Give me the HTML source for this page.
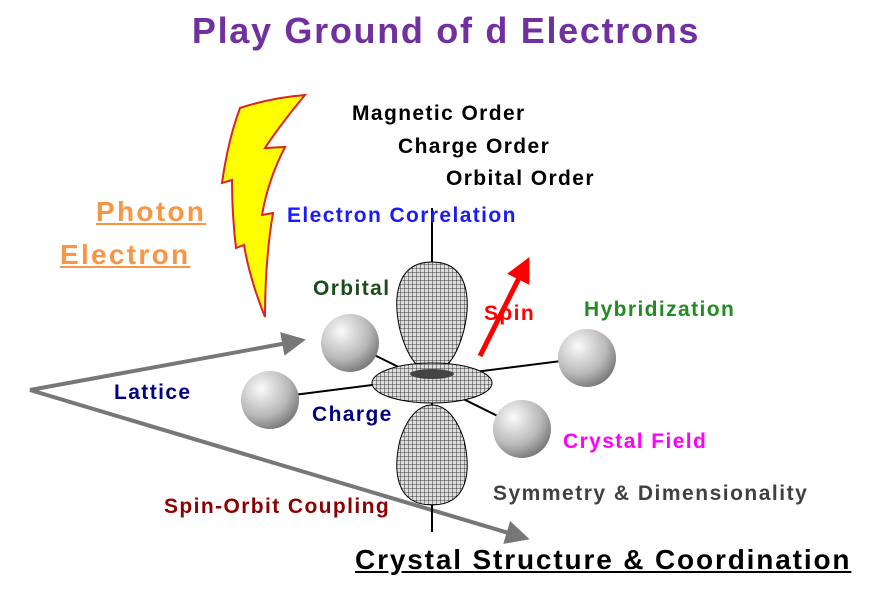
<!DOCTYPE html>
<html><head><meta charset="utf-8"><style>
body{margin:0;background:#fff;width:892px;height:611px;overflow:hidden;position:relative;font-family:"Liberation Sans",Arial,sans-serif;font-weight:bold}
.t{position:absolute;white-space:nowrap;letter-spacing:1.4px}
</style></head><body>
<svg width="892" height="611" style="position:absolute;left:0;top:0">
<defs>
<pattern id="g" width="4" height="4" patternUnits="userSpaceOnUse"><rect width="4" height="4" fill="#ddd"/><path d="M0 0H4M0 0V4" stroke="#111" stroke-width="0.8"/></pattern>
<radialGradient id="s" cx="0.35" cy="0.3" r="0.8"><stop offset="0" stop-color="#fafafa"/><stop offset="0.6" stop-color="#b8b8b8"/><stop offset="1" stop-color="#6a6a6a"/></radialGradient>
<marker id="a" markerWidth="6" markerHeight="6" refX="4" refY="3" orient="auto" markerUnits="strokeWidth"><path d="M0 0L6 3L0 6Z" fill="#777"/></marker>
<marker id="r" markerWidth="5" markerHeight="5" refX="3" refY="2.5" orient="auto" markerUnits="strokeWidth"><path d="M0 0L5 2.5L0 5Z" fill="#f00"/></marker>
</defs>
<path d="M240 108 Q270 98 305 95 Q280 125 265 148 L285 147 Q268 180 262 215 L273 213 Q265 260 265 317 Q250 280 244 245 L236 248 Q232 215 232 180 L222 183 Q228 140 240 108Z" fill="#ff0" stroke="#d22" stroke-width="2"/>
<line x1="30" y1="390" x2="298" y2="341" stroke="#777" stroke-width="4" marker-end="url(#a)"/>
<line x1="30" y1="390" x2="522" y2="537" stroke="#777" stroke-width="4" marker-end="url(#a)"/>
<line x1="432" y1="208" x2="432" y2="532" stroke="#000" stroke-width="2"/>
<line x1="270" y1="398" x2="585" y2="358" stroke="#000" stroke-width="2"/>
<line x1="350" y1="343" x2="522" y2="428" stroke="#000" stroke-width="2"/>
<circle cx="350" cy="343" r="29" fill="url(#s)"/>
<circle cx="270" cy="400" r="29" fill="url(#s)"/>
<path d="M432 505 C395 505 393 470 400 440 C408 415 420 405 432 405 C444 405 456 415 464 440 C471 470 469 505 432 505Z" fill="url(#g)" stroke="#000"/>
<path d="M432 262 C395 262 393 300 400 330 C408 360 420 372 432 372 C444 372 456 360 464 330 C471 300 469 262 432 262Z" fill="url(#g)" stroke="#000"/>
<ellipse cx="432" cy="383" rx="60" ry="20" fill="url(#g)" stroke="#000"/>
<ellipse cx="432" cy="374" rx="22" ry="5" fill="#444"/>
<circle cx="587" cy="358" r="29" fill="url(#s)"/>
<circle cx="522" cy="429" r="29" fill="url(#s)"/>
<line x1="480" y1="356" x2="525" y2="266" stroke="#f00" stroke-width="5" marker-end="url(#r)"/>
</svg>
<div class="t" style="left:0;width:892px;text-align:center;top:10px;font-size:36px;color:#7030a0;letter-spacing:1.7px">Play Ground of d Electrons</div>
<div class="t" style="left:352px;top:102px;font-size:21px;color:#000">Magnetic Order</div>
<div class="t" style="left:398px;top:135px;font-size:21px;color:#000">Charge Order</div>
<div class="t" style="left:446px;top:167px;font-size:21px;color:#000">Orbital Order</div>
<div class="t" style="left:96px;top:196px;font-size:28px;color:#f79646;text-decoration:underline;letter-spacing:2.3px">Photon</div>
<div class="t" style="left:60px;top:239px;font-size:28px;color:#f79646;text-decoration:underline;letter-spacing:2.3px">Electron</div>
<div class="t" style="left:287px;top:204px;font-size:21px;color:#1a1aff">Electron Correlation</div>
<div class="t" style="left:313px;top:277px;font-size:21px;color:#1a4d1a">Orbital</div>
<div class="t" style="left:484px;top:302px;font-size:21px;color:#f00">Spin</div>
<div class="t" style="left:584px;top:298px;font-size:21px;color:#228b22">Hybridization</div>
<div class="t" style="left:114px;top:381px;font-size:21px;color:#000080">Lattice</div>
<div class="t" style="left:312px;top:403px;font-size:21px;color:#000080">Charge</div>
<div class="t" style="left:563px;top:430px;font-size:21px;color:#f0f">Crystal Field</div>
<div class="t" style="left:493px;top:482px;font-size:21px;color:#404040;letter-spacing:1.5px">Symmetry &amp; Dimensionality</div>
<div class="t" style="left:164px;top:495px;font-size:21px;color:#8b0000">Spin-Orbit Coupling</div>
<div class="t" style="left:355px;top:544px;font-size:28px;color:#000;text-decoration:underline;letter-spacing:1.85px">Crystal Structure &amp; Coordination</div>
</body></html>
